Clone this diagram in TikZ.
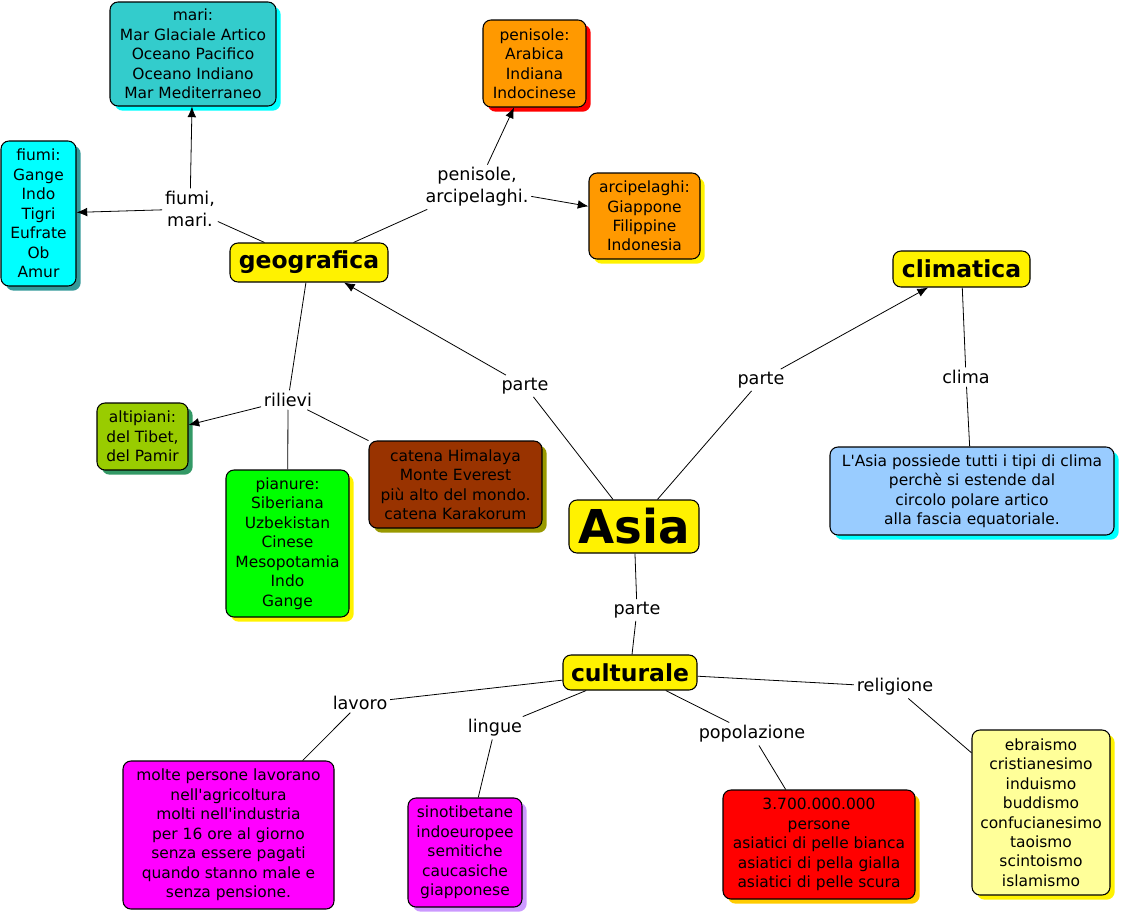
\documentclass[tikz,border=0pt]{standalone}
\usepackage{fontspec}
\setmainfont{DejaVu Sans}
\usetikzlibrary{arrows.meta,shadows}

\definecolor{teal1}{HTML}{33CCCC}
\definecolor{aqua}{HTML}{00FFFF}
\definecolor{darkteal}{HTML}{339999}
\definecolor{orange1}{HTML}{FF9900}
\definecolor{olivegreen}{HTML}{99CC00}
\definecolor{seagreen}{HTML}{339966}
\definecolor{lime1}{HTML}{00FF00}
\definecolor{brown1}{HTML}{993300}
\definecolor{olive1}{HTML}{999900}
\definecolor{skyblue}{HTML}{99CCFF}
\definecolor{magenta1}{HTML}{FF00FF}
\definecolor{lavender}{HTML}{CC99FF}
\definecolor{gold1}{HTML}{FFCC00}
\definecolor{paleyellow}{HTML}{FFFF99}

\newdimen\px \px=0.75pt
\newcommand{\apos}{\textquotesingle}

\begin{document}
\begin{tikzpicture}[x=0.75pt, y=-0.75pt,
  concept/.style={draw, rounded corners=6pt, line width=0.8pt, align=center,
    inner sep=2pt, font=\fontsize{11.6}{14.6}\selectfont},
  main/.style={concept, fill=yellow, font=\bfseries\fontsize{17.6}{20}\selectfont},
  back/.style={drop shadow={fill=#1, opacity=1, shadow xshift=3.5pt, shadow yshift=-3.5pt}},
  phrase/.style={align=center, inner sep=2pt, font=\fontsize{13.2}{16.4}\selectfont},
  link/.style={line width=0.6pt},
  arr/.style={link, -{Latex[length=8pt,width=6.5pt]}}]
  \useasboundingbox (0,0) rectangle (1121,914);

  % concetti principali
  \node[main, minimum width=130\px, minimum height=53\px,
    font=\bfseries\fontsize{35}{40}\selectfont] (asia) at (634,526.5) {Asia};
  \node[main, minimum width=158\px, minimum height=39\px] (geo) at (309,262.5) {geografica};
  \node[main, minimum width=137\px, minimum height=36\px] (clim) at (961.5,269) {climatica};
  \node[main, minimum width=134\px, minimum height=35\px] (cult) at (630,672.5) {culturale};

  % geografica
  \node[concept, fill=teal1, back=aqua, minimum width=166\px, minimum height=104\px] (mari) at (193,54)
    {mari:\\Mar Glaciale Artico\\Oceano Pacifico\\Oceano Indiano\\Mar Mediterraneo};
  \node[concept, fill=aqua, back=darkteal, minimum width=75\px, minimum height=145\px] (fiumi) at (38.5,213.5)
    {fiumi:\\Gange\\Indo\\Tigri\\Eufrate\\Ob\\Amur};
  \node[concept, fill=orange1, back=red, minimum width=103\px, minimum height=87\px] (pen) at (534.5,63.5)
    {penisole:\\Arabica\\Indiana\\Indocinese};
  \node[concept, fill=orange1, back=yellow, minimum width=111\px, minimum height=86\px] (arc) at (644.5,216)
    {arcipelaghi:\\Giappone\\Filippine\\Indonesia};
  \node[concept, fill=olivegreen, back=seagreen, minimum width=91\px, minimum height=67\px] (alti) at (142.5,436.5)
    {altipiani:\\del Tibet,\\del Pamir};
  \node[concept, fill=lime1, back=yellow, minimum width=123\px, minimum height=147\px] (pian) at (287.5,543.5)
    {pianure:\\Siberiana\\Uzbekistan\\Cinese\\Mesopotamia\\Indo\\Gange};
  \node[concept, fill=brown1, back=olive1, minimum width=173\px, minimum height=87\px] (catena) at (455.5,484.5)
    {catena Himalaya\\Monte Everest\\più alto del mondo.\\catena Karakorum};

  % climatica
  \node[concept, fill=skyblue, back=aqua, minimum width=284\px, minimum height=88\px] (tipi) at (972,491)
    {L\apos Asia possiede tutti i tipi di clima\\perchè si estende dal\\circolo polare artico\\alla fascia equatoriale.};

  % culturale
  \node[concept, fill=magenta1, minimum width=211\px, minimum height=148\px] (lav) at (228.5,835)
    {molte persone lavorano\\nell\apos agricoltura\\molti nell\apos industria\\per 16 ore al giorno\\senza essere pagati\\quando stanno male e\\senza pensione.};
  \node[concept, fill=magenta1, back=lavender, minimum width=114\px, minimum height=109\px] (ling) at (465,852.5)
    {sinotibetane\\indoeuropee\\semitiche\\caucasiche\\giapponese};
  \node[concept, fill=red, back=gold1, minimum width=192\px, minimum height=109\px] (pop) at (819,844.5)
    {3.700.000.000\\persone\\asiatici di pelle bianca\\asiatici di pella gialla\\asiatici di pelle scura};
  \node[concept, fill=paleyellow, back=yellow, minimum width=138\px, minimum height=165\px] (rel) at (1041,812.5)
    {ebraismo\\cristianesimo\\induismo\\buddismo\\confucianesimo\\taoismo\\scintoismo\\islamismo};

  % frasi di legame
  \node[phrase] (pgeo)  at (525,386) {parte};
  \node[phrase] (pclim) at (761,380) {parte};
  \node[phrase] (pcult) at (637,610) {parte};
  \node[phrase] (fm)    at (190,209) {fiumi,\\mari.};
  \node[phrase] (pa)    at (477,187) {penisole,\\arcipelaghi.};
  \node[phrase] (ril)   at (288,400) {rilievi};
  \node[phrase] (clima) at (966,377) {clima};
  \node[phrase] (lavoro)  at (360,703) {lavoro};
  \node[phrase] (lingue)  at (495,728) {lingue};
  \node[phrase] (popol)   at (752,734) {popolazione};
  \node[phrase] (relig)   at (895,687) {religione};

  % collegamenti
  \draw[link] (asia) -- (pgeo);
  \draw[arr]  (pgeo) -- (geo);
  \draw[link] (asia) -- (pclim);
  \draw[arr]  (pclim) -- (clim);
  \draw[link] (asia) -- (pcult);
  \draw[link] (pcult) -- (cult);

  \draw[link] (geo) -- (fm);
  \draw[arr]  (fm) -- (mari);
  \draw[arr]  (fm) -- (fiumi);
  \draw[link] (geo) -- (pa);
  \draw[arr]  (pa) -- (pen);
  \draw[arr]  (pa) -- (arc);
  \draw[link] (geo) -- (ril);
  \draw[arr]  (ril) -- (alti);
  \draw[link] (ril) -- (pian);
  \draw[link] (ril) -- (catena);

  \draw[link] (clim) -- (clima);
  \draw[link] (clima) -- (tipi);

  \draw[link] (cult) -- (lavoro);
  \draw[link] (lavoro) -- (lav);
  \draw[link] (cult) -- (lingue);
  \draw[link] (lingue) -- (ling);
  \draw[link] (cult) -- (popol);
  \draw[link] (popol) -- (pop);
  \draw[link] (cult) -- (relig);
  \draw[link] (relig) -- (rel);
\end{tikzpicture}
\end{document}
